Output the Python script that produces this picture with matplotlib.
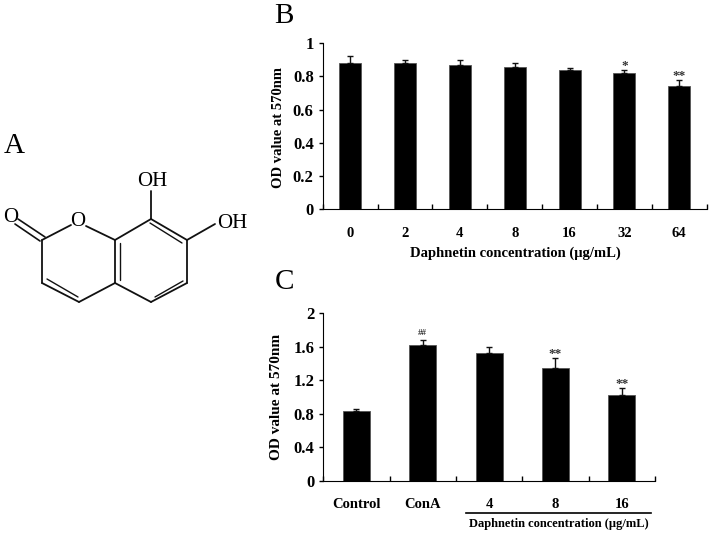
"""
plot.py - daphnetin figure: structure (A), viability bars (B), proliferation bars (C).
"""
import matplotlib
matplotlib.use('Agg')
import matplotlib.pyplot as plt

plt.rcParams['font.family'] = ['Liberation Serif', 'DejaVu Serif']
plt.rcParams['font.weight'] = 'bold'

# ── Data ───────────────────────────────────────────────────────────────────
conc_labels = ['0', '2', '4', '8', '16', '32', '64']
conc_values = [0.88, 0.88, 0.87, 0.855, 0.84, 0.82, 0.74]
conc_errors = [0.04, 0.015, 0.025, 0.025, 0.012, 0.018, 0.035]
conc_marks = ['', '', '', '', '', '*', '**']
conc_ticks = [0, 0.2, 0.4, 0.6, 0.8, 1]

cona_labels = ['Control', 'ConA', '4', '8', '16']
cona_values = [0.83, 1.62, 1.52, 1.35, 1.02]
cona_errors = [0.02, 0.06, 0.07, 0.11, 0.09]
cona_marks = ['', '##', '', '**', '**']
cona_ticks = [0, 0.4, 0.8, 1.2, 1.6, 2]

# Structure in pixel coordinates of the picture
single_bonds = [
    ((42, 240), (71, 225)), ((86, 226), (115, 240)), ((115, 240), (115, 283)),
    ((115, 283), (79, 302)), ((79, 302), (42, 283)), ((42, 283), (42, 240)),
    ((115, 240), (151, 219)), ((151, 219), (187, 240)), ((187, 240), (187, 283)),
    ((187, 283), (151, 302)), ((151, 302), (115, 283)),
    ((151, 219), (151, 191)), ((187, 240), (215, 224)),
]
inner_bonds = [
    ((120, 243), (120, 280)), ((150, 223), (182, 243)), ((183, 281), (155, 297)),
    ((47, 279), (78, 297)),
]
carbonyl_bonds = [((18, 219), (45, 237)), ((15, 224), (40, 241))]
atom_labels = [('O', 11, 217), ('O', 78, 222), ('OH', 152, 182), ('OH', 232, 223)]


def bar_panel(rect, labels, values, errors, marks, ticks, ymax, width):
    ax = fig.add_axes([rect[0] / W, 1 - rect[3] / H, (rect[2] - rect[0]) / W, (rect[3] - rect[1]) / H])
    pos = list(range(len(labels)))
    ax.bar(pos, values, width=width, color='black', edgecolor='#555555', linewidth=0.6)
    ax.errorbar(pos, values, yerr=[[0] * len(errors), errors], fmt='none', ecolor='#111111',
                elinewidth=1.0, capsize=2.5, capthick=1.0)
    for x, v, e, m in zip(pos, values, errors, marks):
        if m:
            # hash marks are set much smaller than the stars in the original
            is_hash = m.startswith('#')
            ax.annotate(m, (x, v + e), xytext=(0, 3 if is_hash else -2), textcoords='offset pixels',
                        ha='center', va='bottom', fontsize=6.5 if is_hash else 9.5, color='#333333')
    ax.set_xlim(-0.5, len(labels) - 0.5)
    ax.set_ylim(0, ymax)
    ax.set_yticks(ticks)
    ax.set_yticklabels([f'{t:g}' for t in ticks], fontsize=12)
    ax.set_xticks([p - 0.5 for p in pos] + [pos[-1] + 0.5])
    ax.set_xticklabels([])
    ax.tick_params(axis='y', direction='out', length=3, width=1, pad=3.5)
    ax.tick_params(axis='x', direction='in', length=3.5, width=1)
    ax.spines['top'].set_visible(False)
    ax.spines['right'].set_visible(False)
    for x, lab in zip(pos, labels):
        ax.annotate(lab, (x, 0), xycoords=('data', 'axes fraction'), xytext=(0, -24),
                    textcoords='offset pixels', ha='center', va='center', fontsize=10.5)
    return ax


W, H = 712, 535
fig = plt.figure(figsize=(7.12, 5.35), dpi=100)

# ── Panel A ────────────────────────────────────────────────────────────────
bg = fig.add_axes([0, 0, 1, 1])
bg.set_xlim(0, W)
bg.set_ylim(H, 0)
bg.axis('off')
for bonds, lw in ((single_bonds, 1.3), (inner_bonds, 1.0), (carbonyl_bonds, 1.2)):
    for a, b in bonds:
        bg.plot([a[0], b[0]], [a[1], b[1]], color='#111111', lw=lw, solid_capstyle='round')
for txt, x, y in atom_labels:
    bg.text(x, y, txt, ha='center', va='center', fontsize=15, fontweight='normal')

bg.text(14, 146, 'A', ha='center', va='center', fontsize=21, fontweight='normal')
bg.text(284, 16, 'B', ha='center', va='center', fontsize=21, fontweight='normal')
bg.text(284, 282, 'C', ha='center', va='center', fontsize=21, fontweight='normal')

# ── Panel B ────────────────────────────────────────────────────────────────
ax_b = bar_panel((322.7, 43, 706.7, 209.3), conc_labels, conc_values, conc_errors,
                 conc_marks, conc_ticks, 1, 0.4)
bg.text(279, 127, 'OD value at 570nm', rotation=90, ha='center', va='center', fontsize=10.5)
bg.text(515, 253, 'Daphnetin concentration (μg/mL)', ha='center', va='center', fontsize=10.5)

# ── Panel C ────────────────────────────────────────────────────────────────
ax_c = bar_panel((323.3, 313, 655, 480.7), cona_labels, cona_values, cona_errors,
                 cona_marks, cona_ticks, 2, 0.41)
bg.text(277, 397, 'OD value at 570nm', rotation=90, ha='center', va='center', fontsize=11)
bg.plot([466, 651], [513, 513], color='black', lw=1.2)
bg.text(559, 524, 'Daphnetin concentration (μg/mL)', ha='center', va='center', fontsize=9)

fig.savefig('out.png', dpi=100)
